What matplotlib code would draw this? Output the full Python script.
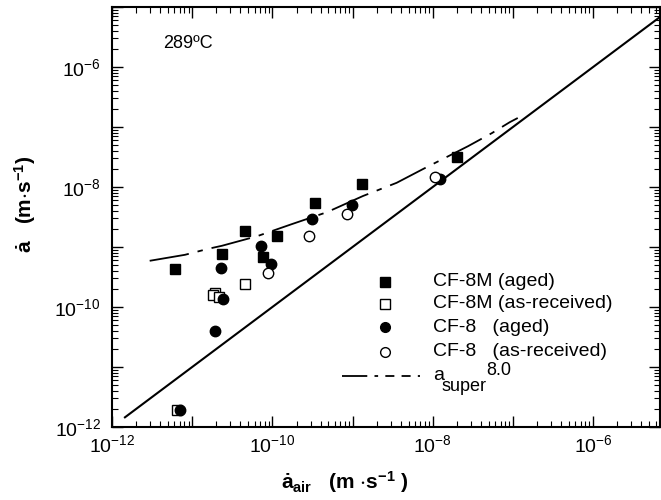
import numpy as np
import matplotlib
matplotlib.use("Agg")
import matplotlib.pyplot as plt
from matplotlib.ticker import LogLocator, FuncFormatter, NullFormatter

plt.rcParams['font.family'] = ['Liberation Sans', 'DejaVu Sans']
plt.rcParams['mathtext.default'] = 'regular'

# CF-8M aged (filled squares)
m_aged_x = [6.1e-12, 2.37e-11, 4.55e-11, 7.7e-11, 1.15e-10, 3.4e-10, 1.3e-9, 1.99e-8]
m_aged_y = [4.3e-10, 7.6e-10, 1.87e-9, 6.9e-10, 1.52e-9, 5.35e-9, 1.12e-8, 3.13e-8]

# CF-8M as-received (open squares)
m_ar_x = [1.92e-11, 1.83e-11, 2.16e-11, 4.55e-11, 6.5e-12]
m_ar_y = [1.73e-10, 1.58e-10, 1.47e-10, 2.42e-10, 1.92e-12]

# CF-8 aged (filled circles)
c_aged_x = [2.29e-11, 2.44e-11, 1.91e-11, 7.2e-11, 9.5e-11, 3.09e-10, 9.75e-10, 1.23e-8, 7.05e-12]
c_aged_y = [4.4e-10, 1.34e-10, 4.0e-11, 1.05e-9, 5.15e-10, 2.9e-9, 5.0e-9, 1.34e-8, 1.92e-12]

# CF-8 as-received (open circles)
c_ar_x = [8.9e-11, 2.86e-10, 8.6e-10, 1.06e-8]
c_ar_y = [3.65e-10, 1.54e-9, 3.55e-9, 1.49e-8]

# superposition curve
sup_x = [10**-11.53, 10**-11.09, 10**-10.80, 10**-10.63, 10**-10.19, 10**-9.76,
         10**-9.32, 10**-8.87, 10**-8.45, 10**-8.12, 10**-7.56, 10**-7.26,
         10**-7.04, 10**-6.94]
sup_y = [10**-9.23, 10**-9.13, 10**-9.03, 10**-8.98, 10**-8.82, 10**-8.62,
         10**-8.42, 10**-8.15, 10**-7.93, 10**-7.70, 10**-7.32, 10**-7.10,
         10**-6.92, 10**-6.85]

# a = a_air reference line
ref_x = [1.45e-12, 7e-6]
ref_y = [1.45e-12, 7e-6]

dashdot = (0, (22, 5, 3, 5))

fig = plt.figure(figsize=(6.61, 5.0), dpi=100)
ax = fig.add_axes([112 / 661, 73 / 500, 548 / 661, 420 / 500])

ax.plot(ref_x, ref_y, color='black', lw=1.5)
ax.plot(sup_x, sup_y, color='black', lw=1.3, linestyle=dashdot)

ax.plot(m_aged_x, m_aged_y, 's', color='black', ms=7.5, linestyle='none')
ax.plot(m_ar_x, m_ar_y, 's', mfc='white', mec='black', mew=1.0, ms=7.5, linestyle='none')
ax.plot(c_aged_x, c_aged_y, 'o', color='black', ms=7.5, linestyle='none')
ax.plot(c_ar_x, c_ar_y, 'o', mfc='white', mec='black', mew=1.0, ms=7.5, linestyle='none')

ax.set_xscale('log')
ax.set_yscale('log')
ax.set_xlim(1e-12, 10**-5.166)
ax.set_ylim(1e-12, 1e-5)

for axis in (ax.xaxis, ax.yaxis):
    axis.set_major_locator(LogLocator(base=10, numticks=20))
    axis.set_minor_locator(LogLocator(base=10, subs=np.arange(2, 10), numticks=20))
    axis.set_minor_formatter(NullFormatter())


def fmt(v, pos):
    e = int(round(np.log10(v)))
    if e % 2 == 0:
        return '$10^{%d}$' % e
    return ''


ax.xaxis.set_major_formatter(FuncFormatter(fmt))
ax.yaxis.set_major_formatter(FuncFormatter(fmt))

ax.tick_params(which='both', direction='in', top=True, right=True, labelsize=14)
ax.tick_params(which='major', length=8, width=1.0)
ax.tick_params(which='minor', length=4, width=0.8)
ax.tick_params(axis='x', pad=5)
ax.tick_params(axis='y', pad=8)
for s in ax.spines.values():
    s.set_linewidth(1.5)

ax.set_xlabel('ȧ$_{air}$   (m $\\cdot$s$^{-1}$ )', fontsize=15, fontweight='bold')
ax.set_ylabel('ȧ   (m$\\cdot$s$^{-1}$)', fontsize=15, fontweight='bold')
ax.xaxis.set_label_coords(0.425, -0.1)
ax.yaxis.set_label_coords(-0.135, 0.53)

ax.text(0.093, 0.914, '289ºC', transform=ax.transAxes, fontsize=13, va='center')

# legend drawn by hand
leg_items = [
    dict(marker='s', mfc='black', label='CF-8M (aged)'),
    dict(marker='s', mfc='white', label='CF-8M (as-received)'),
    dict(marker='o', mfc='black', label='CF-8   (aged)'),
    dict(marker='o', mfc='white', label='CF-8   (as-received)'),
]
leg_y = [282, 304, 327, 352]
for item, py in zip(leg_items, leg_y):
    fy = (427 - py) / 420
    ax.plot([(385 - 112) / 548], [fy], item['marker'], mfc=item['mfc'], mec='black',
            ms=7, transform=ax.transAxes, clip_on=False)
    ax.text((433 - 112) / 548, fy, item['label'], transform=ax.transAxes,
            fontsize=14, va='center')
fy = (427 - 376) / 420
ax.plot([(342 - 112) / 548, (420 - 112) / 548], [fy, fy], color='black', lw=1.3,
        linestyle=(0, (14, 4, 2, 4, 5, 4, 5, 4)), transform=ax.transAxes)
tx = (433 - 112) / 548
ax.annotate('a', (tx, fy), xycoords='axes fraction', xytext=(0, -3),
            textcoords='offset points', fontsize=14, va='baseline')
ax.annotate('super', (tx, fy), xycoords='axes fraction', xytext=(6, -11),
            textcoords='offset points', fontsize=13, va='baseline')
ax.annotate('8.0', (tx, fy), xycoords='axes fraction', xytext=(38, 1),
            textcoords='offset points', fontsize=13, va='baseline')

fig.savefig('out.png', dpi=100)
